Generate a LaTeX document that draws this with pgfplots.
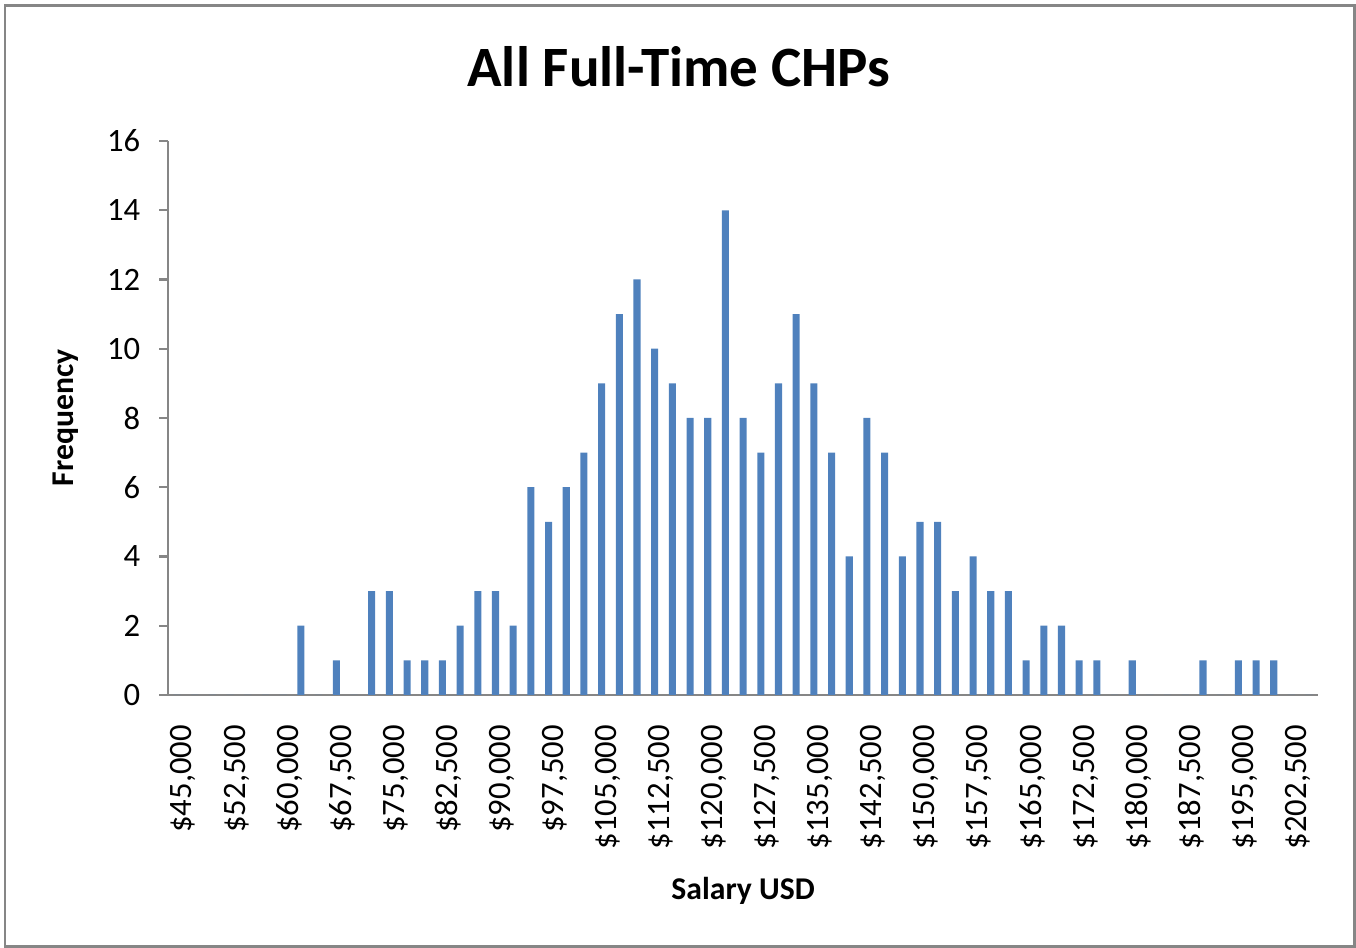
\documentclass[border=0pt]{standalone}
\usepackage{pgfplots}
\pgfplotsset{compat=1.18}
\usepackage{fontspec}
\setmainfont{Carlito}
\definecolor{barblue}{HTML}{4F81BD}
\definecolor{axgray}{HTML}{868686}
\begin{document}
\begin{tikzpicture}
\useasboundingbox (-53.1pt,-79.85pt) rectangle (374.8pt,219.3pt);
\draw[axgray, line width=0.8pt] (-51.5pt,-79.4pt) rectangle (374.3pt,217.6pt);
\begin{axis}[
  scale only axis,
  width=362.8pt, height=174.8pt,
  at={(0,0)}, anchor=south west,
  xmin=-0.5, xmax=64.5,
  ymin=0, ymax=16,
  axis x line*=bottom, axis y line*=left,
  axis line style={axgray, line width=0.75pt},
  every tick/.style={axgray, line width=0.75pt},
  tick align=outside,
  major tick length=2.8pt,
  minor tick length=2.6pt,
  ytick={0,2,...,16},
  xtick={0,3,...,63},
  xtick style={draw=none},
  minor xtick={-0.5,0.5,...,64.5},
  xticklabels={{\$45,000},{\$52,500},{\$60,000},{\$67,500},{\$75,000},{\$82,500},{\$90,000},{\$97,500},{\$105,000},{\$112,500},{\$120,000},{\$127,500},{\$135,000},{\$142,500},{\$150,000},{\$157,500},{\$165,000},{\$172,500},{\$180,000},{\$187,500},{\$195,000},{\$202,500}},
  xticklabel style={rotate=90, anchor=east, font=\fontsize{10.3}{12}\selectfont, xshift=-3.2pt, yshift=-2pt},
  yticklabel style={font=\fontsize{10.3}{12}\selectfont, xshift=-2.5pt},
  /pgf/number format/assume math mode=true,
  every axis title shift=0pt,
  title={All Full-Time CHPs},
  title style={at={(axis description cs:0.444,1.135)}, anchor=center, font=\fontsize{18}{22}\selectfont\bfseries},
  xlabel={Salary USD},
  xlabel style={at={(axis description cs:0.5,-0.354)}, anchor=center, font=\fontsize{10}{12}\selectfont\bfseries},
  ylabel={Frequency},
  ylabel style={at={(axis description cs:-0.089,0.5)}, anchor=center, font=\fontsize{10}{12}\selectfont\bfseries},
  ybar, bar width=0.4,
  clip=false,
]
\addplot[fill=barblue, draw=none] coordinates {
(0,0) (1,0) (2,0) (3,0) (4,0) (5,0) (6,0) (7,2) (8,0) (9,1)
(10,0) (11,3) (12,3) (13,1) (14,1) (15,1) (16,2) (17,3) (18,3) (19,2)
(20,6) (21,5) (22,6) (23,7) (24,9) (25,11) (26,12) (27,10) (28,9) (29,8)
(30,8) (31,14) (32,8) (33,7) (34,9) (35,11) (36,9) (37,7) (38,4) (39,8)
(40,7) (41,4) (42,5) (43,5) (44,3) (45,4) (46,3) (47,3) (48,1) (49,2)
(50,2) (51,1) (52,1) (53,0) (54,1) (55,0) (56,0) (57,0) (58,1) (59,0)
(60,1) (61,1) (62,1) (63,0) (64,0)
};
\end{axis}
\end{tikzpicture}
\end{document}
